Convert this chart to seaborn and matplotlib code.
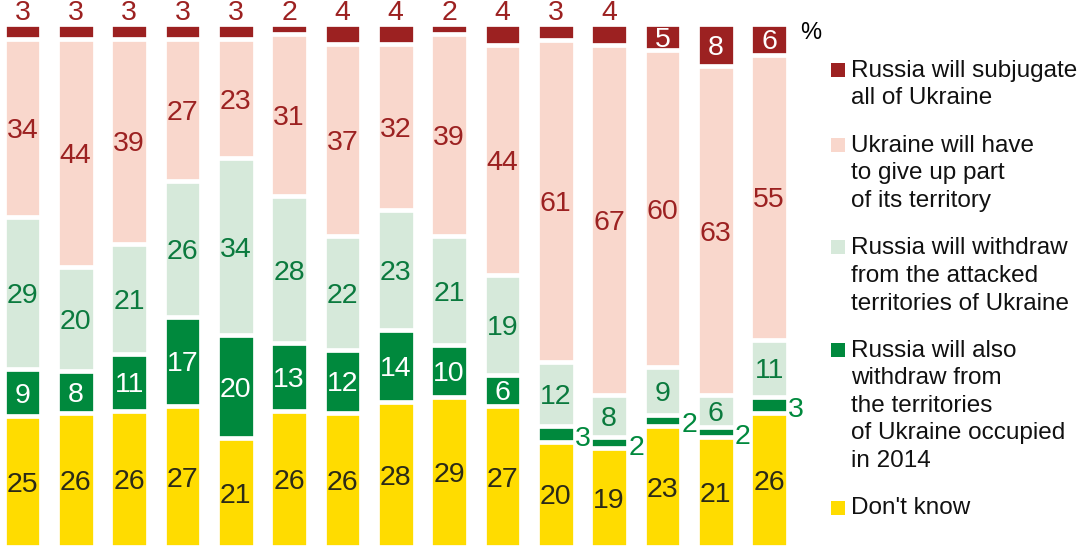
import numpy as np
import pandas as pd
import matplotlib
matplotlib.use("Agg")
import matplotlib.pyplot as plt
import matplotlib.patches as mpatches
import seaborn as sns

# survey waves, left to right (no labels in the source chart)
waves = [str(i) for i in range(1, 16)]

dont_know = [25, 26, 26, 27, 21, 26, 26, 28, 29, 27, 20, 19, 23, 21, 26]
withdraw_2014 = [9, 8, 11, 17, 20, 13, 12, 14, 10, 6, 3, 2, 2, 2, 3]
withdraw_attacked = [29, 20, 21, 26, 34, 28, 22, 23, 21, 19, 12, 8, 9, 6, 11]
give_up_part = [34, 44, 39, 27, 23, 31, 37, 32, 39, 44, 61, 67, 60, 63, 55]
subjugate = [3, 3, 3, 3, 3, 2, 4, 4, 2, 4, 3, 4, 5, 8, 6]

series_names = [
    "Don't know",
    "Russia will also\nwithdraw from\nthe territories\nof Ukraine occupied\nin 2014",
    "Russia will withdraw\nfrom the attacked\nterritories of Ukraine",
    "Ukraine will have\nto give up part\nof its territory",
    "Russia will subjugate\nall of Ukraine",
]

colors = ["#FFDC00", "#00893D", "#D6E9DA", "#F9D7CC", "#9C2121"]
text_colors = ["#2B2A17", "white", "#0B7A3E", "#9C2121", "white"]

df = pd.DataFrame({
    "wave": waves,
    "dk": dont_know,
    "w2014": withdraw_2014,
    "attacked": withdraw_attacked,
    "giveup": give_up_part,
    "subj": subjugate,
})
cols = ["dk", "w2014", "attacked", "giveup", "subj"]

# bars fill the full height, so scale each wave to 100
totals = df[cols].sum(axis=1)
norm = df[cols].div(totals, axis=0) * 100
cum = norm.cumsum(axis=1)

sns.set_theme(style="white")
plt.rcParams["font.family"] = ["Liberation Sans", "DejaVu Sans"]

W, H = 1083, 550
fig = plt.figure(figsize=(W / 100, H / 100), dpi=100)
gap_px = 4.7
lw = gap_px * 72 / 100
ax = fig.add_axes([0, (H - 547.35) / H, 800 / W, (547.35 - 23.65) / H])

# draw cumulative bars from the top layer down, later ones cover earlier
for k in range(len(cols) - 1, -1, -1):
    sns.barplot(x=df["wave"], y=cum[cols[k]], color=colors[k], saturation=1,
                width=0.707, edgecolor="white", linewidth=lw,
                errorbar=None, ax=ax)

ax.set_xlim(-0.42, 14.58)
ax.set_ylim(0, 100)
ax.axis("off")

fs = 20.5
for i in range(len(waves)):
    for k, c in enumerate(cols):
        v = df.loc[i, c]
        top = cum.loc[i, c]
        mid = top - norm.loc[i, c] / 2
        if c == "subj" and v <= 4:
            ax.annotate(str(v), (i, 100), xytext=(0, 2.6),
                        textcoords="offset points", ha="center",
                        va="baseline", fontsize=fs, color=colors[k])
        elif c == "w2014" and v <= 3:
            ax.annotate(str(v), (i + 0.36, mid), xytext=(0, -1.5),
                        textcoords="offset points", ha="left",
                        va="center_baseline", fontsize=fs, color=colors[k])
        else:
            ax.text(i, mid, str(v), ha="center", va="center_baseline",
                    fontsize=fs, color=text_colors[k])

fig.text(800 / W, 1 - 39 / H, "%", fontsize=17, color="black",
         ha="left", va="baseline")

# legend, top entry first
leg_fs = 17.5
line_px = 27.5
gap = 20
y = 77
for k in range(len(cols) - 1, -1, -1):
    lines = series_names[k].split("\n")
    fig.patches.append(mpatches.Rectangle(
        (831 / W, 1 - y / H), 14 / W, 14 / H, transform=fig.transFigure,
        facecolor=colors[k], edgecolor="none"))
    for j, ln in enumerate(lines):
        fig.text(851 / W, 1 - (y + j * line_px) / H, ln, fontsize=leg_fs,
                 color="#111111", ha="left", va="baseline")
    y += len(lines) * line_px + gap

fig.savefig("out.png", dpi=100)
